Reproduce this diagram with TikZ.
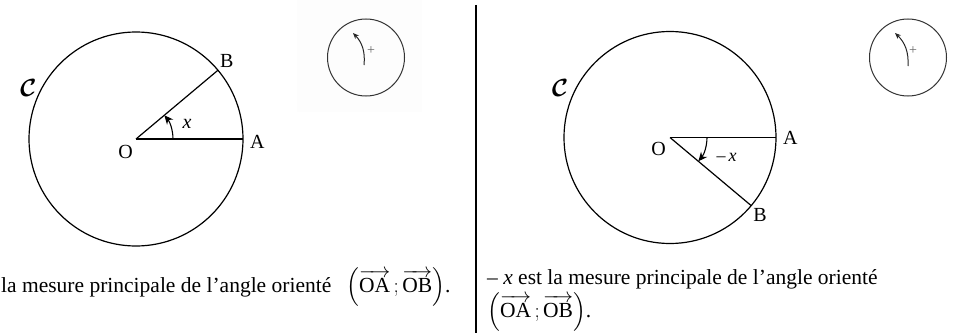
\documentclass[tikz,border=0pt]{standalone}
\usepackage{amsmath,amssymb}
\usepackage{fontspec}
\setmainfont{Liberation Serif}
\usepackage{tikz}
\usetikzlibrary{arrows.meta}
\usetikzlibrary{positioning}
\tikzset{
    ptlabel/.style={
        font=\fontsize{20}{22}\selectfont,
        inner sep=1pt
    },
    courbe/.style={
        font=\fontsize{25}{25}\selectfont,
        inner sep=1pt
    },
    legende/.style={
        font=\fontsize{21.5}{33}\selectfont,
        inner sep=0pt,
        align=left
    },
    trait/.style={line width=1.2pt},
    sens/.style={line width=1.1pt, -{Stealth[length=9pt,width=8pt]}},
    repere/.style={line width=1pt, draw=black!80},
    petitsens/.style={line width=1pt, draw=black!85, -{Stealth[length=6pt,width=5pt]}},
    plus/.style={font=\fontsize{14}{14}\selectfont, text=black!60, inner sep=0pt}
}
\newcommand{\couple}{$\left(\overrightarrow{\text{OA}}\,;\overrightarrow{\text{OB}}\right)$}

\begin{document}
\begin{tikzpicture}[x=1pt,y=1pt]
\useasboundingbox (0,0) rectangle (959,333);
% fond + separation
\fill[black!0.6] (297,221) rectangle (422,333);
\coordinate (haut) at (476,328);
\coordinate (bas) at (476,0);
\draw[trait] (haut) -- (bas);

% figure de gauche
\coordinate (O1) at (136,194);
\path (O1) ++(0:107) coordinate (A1);
\path (O1) ++(40:107) coordinate (B1);
\draw[trait] (O1) circle[radius=107];
\draw[trait] (O1) -- (A1);
\draw[trait] (O1) -- (B1);
\draw[sens] ([shift={(0:37)}]O1) arc[start angle=0, end angle=40, radius=37];
\node[ptlabel] (lO1) [below left=5pt and 2pt of O1] {O};
\node[ptlabel] (lA1) [right=6pt of A1, yshift=-3pt] {A};
\node[ptlabel] (lB1) [above right=1pt and 1pt of B1] {B};
\node[ptlabel] (lx1) at ([shift={(16:53)}]O1) {\textit{x}};
\node[courbe] (lC1) at ([shift={(154.7:119)}]O1) {$\boldsymbol{\mathcal{C}}$};

% sens direct (gauche)
\coordinate (S1) at (366,275.5);
\draw[repere] (S1) circle[radius=38.5];
\node[plus] (P1) at ([shift={(5,6.5)}]S1) {+};
\coordinate (d1) at ([shift={(-2,-7.5)}]S1);
\coordinate (f1) at ([shift={(-13,24.5)}]S1);
\draw[petitsens] (d1) to[bend right=25] (f1);

% texte gauche
\node[legende, anchor=base west] (T1) at (1,41) {la mesure principale de l’angle orienté\hspace{0.45em} \couple.};

% figure de droite
\coordinate (O2) at (670,195.5);
\path (O2) ++(0:106) coordinate (A2);
\path (O2) ++(-40:106) coordinate (B2);
\draw[trait] (O2) circle[radius=106];
\draw[trait] (O2) -- (A2);
\draw[trait] (O2) -- (B2);
\draw[sens] ([shift={(0:37)}]O2) arc[start angle=0, end angle=-40, radius=37];
\node[ptlabel] (lO2) [below left=4pt and 3pt of O2] {O};
\node[ptlabel] (lA2) [right=6pt of A2] {A};
\node[ptlabel] (lB2) [below right=2pt and 1pt of B2] {B};
\node[ptlabel] (lx2) at ([shift={(-19:60)}]O2) {\fontsize{18}{20}\selectfont –\,\textit{x}};
\node[courbe] (lC2) at ([shift={(155.8:120.6)}]O2) {$\boldsymbol{\mathcal{C}}$};

% sens direct (droite)
\coordinate (S2) at (908,275.5);
\draw[repere] (S2) circle[radius=38.5];
\node[plus] (P2) at ([shift={(5,6.5)}]S2) {+};
\coordinate (d2) at ([shift={(0,-8.5)}]S2);
\coordinate (f2) at ([shift={(-13,24.5)}]S2);
\draw[petitsens] (d2) to[bend right=25] (f2);

% texte droite
\node[legende, anchor=base west] (T2) at (487,16) {– \textit{x} est la mesure principale de l’angle orienté\\ \couple.};
\end{tikzpicture}
\end{document}
